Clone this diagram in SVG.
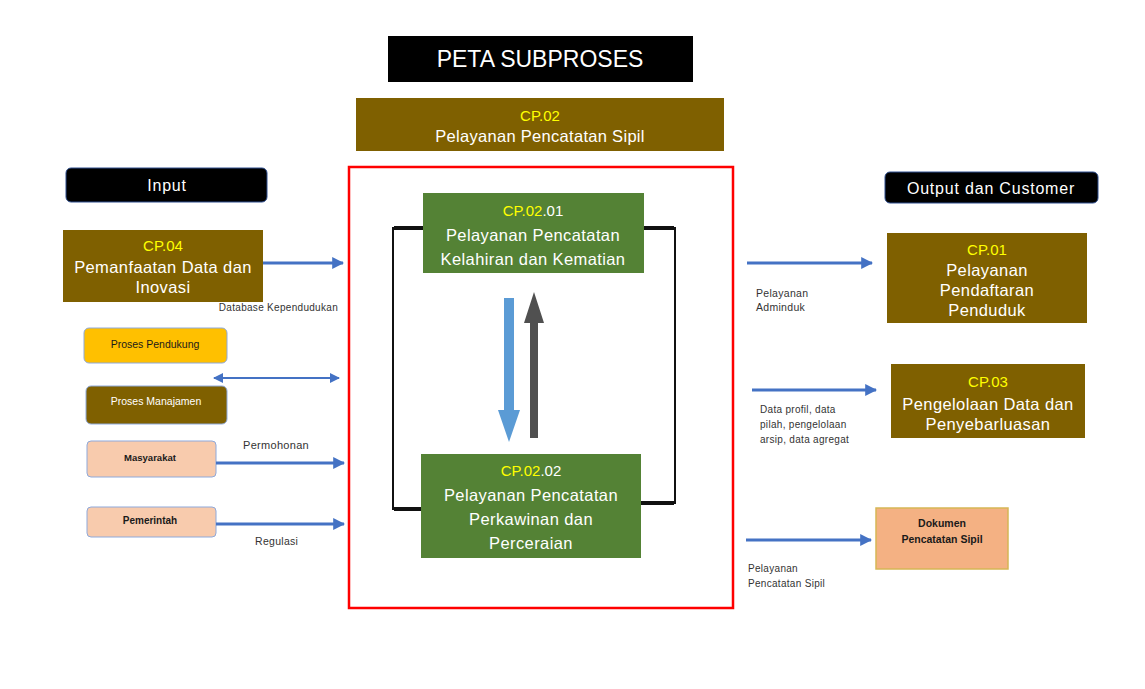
<svg xmlns="http://www.w3.org/2000/svg" width="1145" height="689" viewBox="0 0 1145 689">
<defs>
<style>
text{font-family:"Liberation Sans","DejaVu Sans",sans-serif;text-anchor:middle}
.w{fill:#ffffff}
.y{fill:#ffff00}
.dk{fill:#1a1a1a}
.lbl{fill:#333333;text-anchor:start;font-size:10px;letter-spacing:0.3px}
.brown{fill:#7f6000}
.green{fill:#548235}
.hdr{fill:#000000;stroke:#2f4f8f;stroke-width:1}
.conn{stroke:#4472c4;stroke-width:3;fill:none}
.brk{stroke:#111111;fill:none}
.big{font-size:16.5px;letter-spacing:0.4px}
.cp{font-size:15px}
</style>
<marker id="ah" viewBox="0 0 10 10" refX="9" refY="5" markerWidth="4" markerHeight="4" orient="auto-start-reverse" markerUnits="strokeWidth">
<path d="M0,0 L10,5 L0,10 z" fill="#4472c4"/>
</marker>
<marker id="ahs" viewBox="0 0 10 10" refX="9" refY="5" markerWidth="5" markerHeight="5" orient="auto-start-reverse" markerUnits="strokeWidth">
<path d="M0,0 L10,5 L0,10 z" fill="#4472c4"/>
</marker>
</defs>
<rect width="1145" height="689" fill="#ffffff"/>

<g id="title">
<rect x="388" y="36" width="305" height="46" fill="#000000"/>
<text x="540" y="67" class="w" font-size="23">PETA SUBPROSES</text>
</g>

<g id="cp02">
<rect x="356" y="98" width="368" height="53" class="brown"/>
<text x="540" y="121" class="y cp">CP.02</text>
<text x="540" y="142" class="w" font-size="16.5" letter-spacing="0.3">Pelayanan Pencatatan Sipil</text>
</g>

<g id="frame">
<rect x="349" y="167" width="384" height="441" fill="none" stroke="#ff0000" stroke-width="2.5"/>
</g>

<g id="cp0201">
<rect x="423" y="193" width="221" height="80" class="green"/>
<text x="533" y="216" class="cp"><tspan class="y">CP.02</tspan><tspan class="w">.01</tspan></text>
<text x="533" y="241" class="w big">Pelayanan Pencatatan</text>
<text x="533" y="265" class="w big">Kelahiran dan Kematian</text>
</g>

<g id="cp0202">
<rect x="421" y="454" width="220" height="104" class="green"/>
<text x="531" y="476" class="cp"><tspan class="y">CP.02</tspan><tspan class="w">.02</tspan></text>
<text x="531" y="501" class="w big">Pelayanan Pencatatan</text>
<text x="531" y="525" class="w big">Perkawinan dan</text>
<text x="531" y="549" class="w big">Perceraian</text>
</g>

<g id="input">
<rect x="66" y="168" width="201" height="34" rx="5" class="hdr"/>
<text x="167" y="191" class="w" font-size="16" letter-spacing="0.8">Input</text>
</g>

<g id="cp04">
<rect x="63" y="230" width="200" height="72" class="brown"/>
<text x="163" y="251" class="y cp">CP.04</text>
<text x="163" y="273" class="w big">Pemanfaatan Data dan</text>
<text x="163" y="293" class="w big">Inovasi</text>
</g>

<g id="pendukung">
<rect x="84" y="328" width="143" height="35" rx="5" fill="#ffc000" stroke="#8ea9db" stroke-width="1"/>
<text x="155" y="348" class="dk" font-size="10.5">Proses Pendukung</text>
</g>

<g id="manajemen">
<rect x="86" y="386" width="141" height="38" rx="5" class="brown" stroke="#8ea9db" stroke-width="1"/>
<text x="156" y="405" class="w" font-size="10.5">Proses Manajamen</text>
</g>

<g id="masyarakat">
<rect x="87" y="441" width="129" height="36" rx="4" fill="#f8cbad" stroke="#8ea9db" stroke-width="1"/>
<text x="150" y="461" class="dk" font-size="9.5" font-weight="bold">Masyarakat</text>
</g>

<g id="pemerintah">
<rect x="87" y="507" width="129" height="30" rx="4" fill="#f8cbad" stroke="#8ea9db" stroke-width="1"/>
<text x="150" y="524" class="dk" font-size="10" font-weight="bold">Pemerintah</text>
</g>

<g id="output">
<rect x="885" y="172" width="213" height="31" rx="5" class="hdr"/>
<text x="991" y="194" class="w" font-size="16" letter-spacing="0.8">Output dan Customer</text>
</g>

<g id="cp01">
<rect x="887" y="233" width="200" height="90" class="brown"/>
<text x="987" y="255" class="y cp">CP.01</text>
<text x="987" y="276" class="w big">Pelayanan</text>
<text x="987" y="296" class="w big">Pendaftaran</text>
<text x="987" y="316" class="w big">Penduduk</text>
</g>

<g id="cp03">
<rect x="891" y="364" width="194" height="74" class="brown"/>
<text x="988" y="387" class="y cp">CP.03</text>
<text x="988" y="410" class="w big">Pengelolaan Data dan</text>
<text x="988" y="430" class="w big">Penyebarluasan</text>
</g>

<g id="dokumen">
<rect x="876" y="508" width="132" height="61" fill="#f4b183" stroke="#d6b656" stroke-width="1.5"/>
<text x="942" y="527" class="dk" font-size="10.5" font-weight="bold">Dokumen</text>
<text x="942" y="543" class="dk" font-size="10.5" font-weight="bold">Pencatatan Sipil</text>
</g>

<g id="connectors">
<line x1="263" y1="263" x2="343" y2="263" class="conn" marker-end="url(#ah)"/>
<line x1="214" y1="378" x2="339" y2="378" stroke="#4472c4" stroke-width="2" marker-start="url(#ahs)" marker-end="url(#ahs)"/>
<line x1="216" y1="463" x2="344" y2="463" class="conn" marker-end="url(#ah)"/>
<line x1="216" y1="524" x2="344" y2="524" class="conn" marker-end="url(#ah)"/>
<line x1="747" y1="263" x2="872" y2="263" class="conn" marker-end="url(#ah)"/>
<line x1="752" y1="390" x2="876" y2="390" class="conn" marker-end="url(#ah)"/>
<line x1="746" y1="540" x2="871" y2="540" class="conn" marker-end="url(#ah)"/>
<polyline points="423,228 393,228 393,509 421,509" class="brk" stroke-width="2"/>
<line x1="394" y1="228" x2="423" y2="228" stroke="#111" stroke-width="4"/>
<line x1="394" y1="509" x2="421" y2="509" stroke="#111" stroke-width="4"/>
<polyline points="644,228 675,228 675,503 641,503" class="brk" stroke-width="2"/>
<line x1="644" y1="228" x2="674" y2="228" stroke="#111" stroke-width="4"/>
<line x1="641" y1="503" x2="674" y2="503" stroke="#111" stroke-width="4"/>
<polygon points="504,298 514,298 514,410 520,410 509,442 498,410 504,410" fill="#5b9bd5"/>
<polygon points="530,438 538,438 538,323 544,323 534,292 524,323 530,323" fill="#505050"/>
</g>

<g id="labels">
<text x="338" y="311" class="lbl" style="text-anchor:end">Database Kependudukan</text>
<text x="243" y="449" class="lbl" style="font-size:11px">Permohonan</text>
<text x="255" y="545" class="lbl" style="font-size:10.5px">Regulasi</text>
<text x="756" y="297" class="lbl" style="font-size:10.5px">Pelayanan</text>
<text x="756" y="311" class="lbl" style="font-size:10.5px">Adminduk</text>
<text x="760" y="413" class="lbl">Data profil, data</text>
<text x="760" y="428" class="lbl">pilah, pengelolaan</text>
<text x="760" y="443" class="lbl">arsip, data agregat</text>
<text x="748" y="572" class="lbl">Pelayanan</text>
<text x="748" y="587" class="lbl">Pencatatan Sipil</text>
</g>
</svg>
